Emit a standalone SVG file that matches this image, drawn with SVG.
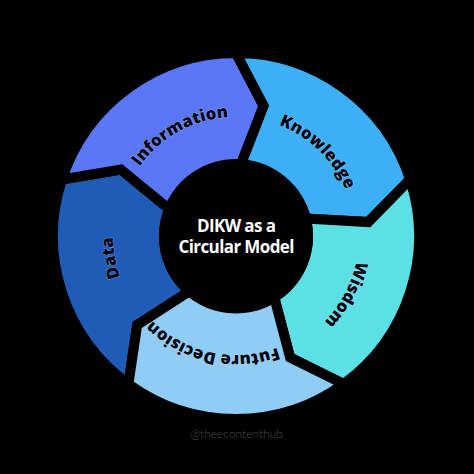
<svg xmlns="http://www.w3.org/2000/svg" width="474" height="474" viewBox="0 0 474 474">
<style>
.seg{stroke:#000;stroke-width:10;stroke-linejoin:miter}
.lbl{font-family:"Open Sans","Liberation Sans",sans-serif;font-weight:800;font-size:16.8px;fill:#050814;stroke:#ffffff;stroke-opacity:0.45;stroke-width:0.8;paint-order:stroke;text-anchor:middle}
.ctr{font-family:"Open Sans","Liberation Sans",sans-serif;font-weight:700;font-size:17px;fill:#ffffff;text-anchor:middle}
.wm{font-family:Lato,"Liberation Sans",sans-serif;font-weight:300;font-size:12px;fill:#4d4d4d;text-anchor:middle}
</style>
<defs>
<path id="r119" d="M355,236 A119,119 0 1 1 117,236 A119,119 0 1 1 355,236"/>
<path id="r123" d="M359,236 A123,123 0 1 1 113,236 A123,123 0 1 1 359,236"/>
</defs>
<rect width="474" height="474" fill="#000"/>
<g id="connectors"></g>
<g id="data">
<path class="seg" fill="#1f5cb8" d="M128.43,384.05 A183,183 0 0 1 61.96,179.45 L120.82,169.5 L169.24,209.03 A72,72 0 0 0 189.72,291.16 L137.16,324.99 Z"/>
<text class="lbl"><textPath href="#r123" startOffset="364.9">Data</textPath></text>
</g>
<g id="information">
<path class="seg" fill="#5a77f7" d="M61.96,179.45 A183,183 0 0 1 236,53 L263.65,105.91 L241.02,164.18 A72,72 0 0 0 169.24,209.03 L120.82,169.5 Z"/>
<text class="lbl"><textPath href="#r119" startOffset="500.5">Information</textPath></text>
</g>
<g id="knowledge">
<path class="seg" fill="#3bb0f6" d="M236,53 A183,183 0 0 1 410.04,179.45 L368.27,222.1 L305.86,218.58 A72,72 0 0 0 241.02,164.18 L263.65,105.91 Z"/>
<text class="lbl"><textPath href="#r119" startOffset="652.2">Knowledge</textPath></text>
</g>
<g id="wisdom">
<path class="seg" fill="#5de0e5" d="M410.04,179.45 A183,183 0 0 1 343.57,384.05 L290.1,357.5 L274.15,297.06 A72,72 0 0 0 305.86,218.58 L368.27,222.1 Z"/>
<text class="lbl"><textPath href="#r123" startOffset="60.1">Wisdom</textPath></text>
</g>
<g id="future-decision">
<path class="seg" fill="#8fcdf7" d="M343.57,384.05 A183,183 0 0 1 128.43,384.05 L137.16,324.99 L189.72,291.16 A72,72 0 0 0 274.15,297.06 L290.1,357.5 Z"/>
<text class="lbl"><textPath href="#r119" startOffset="212">Future Decision</textPath></text>
</g>
<g id="center">
<circle cx="236" cy="236.5" r="77" fill="#000"/>
<text class="ctr" x="236.5" y="232" textLength="79" lengthAdjust="spacing">DIKW as a</text>
<text class="ctr" x="236.5" y="253" textLength="116" lengthAdjust="spacing">Circular Model</text>
</g>
<text class="wm" x="236.5" y="438">@theecontenthub</text>
</svg>
